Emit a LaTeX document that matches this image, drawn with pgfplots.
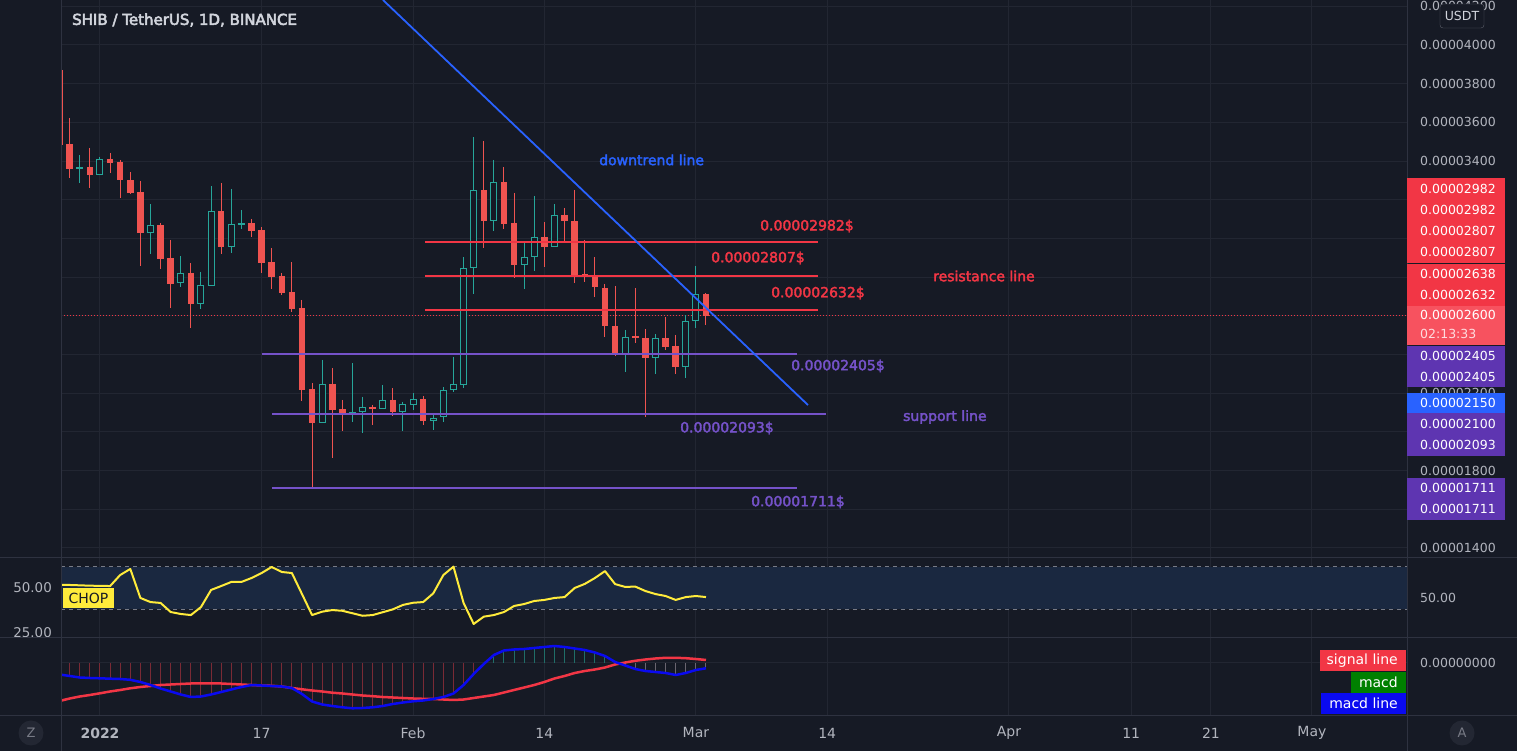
\documentclass[border=0pt]{standalone}
\usepackage{fontspec}
\setmainfont{DejaVu Sans}
\newfontfamily\semib{DejaVu Sans}[FakeBold=2.5]
\newfontfamily\titlef{DejaVu Sans}[FakeBold=3.5]
\usepackage{pgfplots}
\usepackage{pgfplotstable}
\pgfplotsset{compat=1.18}
\definecolor{bg}{HTML}{161A25}
\definecolor{cgrid}{HTML}{222632}
\definecolor{csep}{HTML}{2E3240}
\definecolor{ctext}{HTML}{B2B5BE}
\definecolor{ctitle}{HTML}{D1D4DC}
\definecolor{cbear}{HTML}{EF5350}
\definecolor{cbull}{HTML}{26A69A}
\definecolor{cred}{HTML}{F23645}
\definecolor{cred2}{HTML}{F7525F}
\definecolor{cpurp}{HTML}{7552C9}
\definecolor{cpurpbox}{HTML}{5E35B1}
\definecolor{cblue}{HTML}{2962FF}
\definecolor{cyell}{HTML}{FFEB3B}
\definecolor{cband}{HTML}{1A2840}
\definecolor{cdash}{HTML}{787B86}
\definecolor{cmacd}{HTML}{0A0AF0}
\definecolor{cgreen}{HTML}{008000}
\definecolor{cbtn}{HTML}{232733}
\definecolor{chred}{HTML}{7A2A35}
\definecolor{chteal}{HTML}{1F6E68}
\definecolor{chpink}{HTML}{6A6570}
\newcommand\fs[1]{\fontsize{#1}{#1}\selectfont}

% day index: 0 = 1 Jan 2022
\pgfplotstableread{
d o h l c
-4 3871 3902 3468 3483
-3 3488 3623 3313 3359
-1 3369 3468 3261 3328
1 3411 3442 3338 3390
2 3395 3406 3209 3302
3 3302 3344 3230 3235
4 3240 3297 2858 3028
6 3070 3080 2842 2894
7 2899 2992 2640 2765
9 2822 2873 2537 2661
12 3142 3287 2920 2956
15 3080 3101 3008 3039
16 3044 3059 2822 2873
17 2878 2951 2739 2801
18 2806 2822 2708 2718
19 2723 2878 2620 2635
20 2640 2682 2160 2217
21 2222 2253 1710 2046
23 2248 2330 1865 2113
24 2118 2165 2005 2098
27 2129 2139 2036 2118
29 2165 2227 2082 2103
32 2170 2186 2036 2057
38 3250 3504 2951 3090
40 3292 3369 3049 3075
41 3080 3235 2796 2863
44 3008 3085 2853 2956
46 3121 3158 2982 3090
47 3090 3250 2770 2806
48 2816 2992 2775 2801
49 2806 2904 2697 2749
50 2744 2765 2490 2547
51 2547 2754 2392 2403
53 2496 2744 2460 2485
54 2485 2532 2077 2382
56 2485 2594 2423 2439
57 2444 2501 2299 2336
60 2713 2718 2553 2600
}\bear
\pgfplotstableread{
d o h l c
-2 3359 3431 3287 3369
0 3328 3421 3328 3411
5 3028 3178 2920 3070
8 2770 2909 2749 2822
10 2661 2827 2635 2759
11 2754 3271 2754 3142
13 2956 3256 2925 3075
14 3070 3147 3049 3080
22 2046 2372 2046 2248
25 2098 2356 2051 2103
26 2103 2181 1995 2129
28 2118 2243 2118 2165
30 2103 2155 2005 2144
31 2139 2200 2113 2170
33 2057 2087 2010 2072
34 2077 2232 2051 2217
35 2217 2389 2205 2248
36 2243 2904 2227 2847
37 2847 3524 2713 3250
39 3090 3406 3039 3292
42 2863 2977 2739 2904
43 2904 3220 2832 3008
45 2956 3178 2956 3121
52 2403 2527 2310 2491
55 2382 2506 2299 2485
58 2336 2604 2279 2573
59 2573 2858 2537 2713
}\bull
\pgfplotstableread{
d chop
-4 51.7
-3 51.7
-2 51.5
-1 51.3
0 51.2
1 51.1
2 57.3
3 60.7
4 44.4
5 42.1
6 41.6
7 36.5
8 35.4
9 34.8
10 39.3
11 48.9
12 51.1
13 53.4
14 53.4
15 55.6
16 58.4
17 61.8
18 59.0
19 58.4
20 46.6
21 34.8
22 36.7
23 37.6
24 37.2
25 35.8
26 34.4
27 34.8
28 36.4
29 38.0
30 40.5
31 41.7
32 42.1
33 47.0
34 57.3
35 62.0
36 41.6
37 29.8
38 33.9
39 34.8
40 36.5
41 39.9
42 41.0
43 42.7
44 43.3
45 44.4
46 44.9
47 50.0
48 52.3
49 55.6
50 59.5
51 52.2
52 50.6
53 50.8
54 48.3
55 46.6
56 45.5
57 43.3
58 44.9
59 45.5
60 44.9
}\chop
\pgfplotstableread{
d macd signal
-4 -57.5 -190
-3 -65 -177.5
-2 -72.5 -167.5
-1 -75 -160
0 -76.5 -151.5
1 -78.5 -142.5
2 -80 -135
3 -84 -126.5
4 -95 -120
5 -110 -115
6 -127.5 -110
7 -142.5 -107.5
8 -157.5 -105
9 -170 -102.5
10 -167.5 -101.5
11 -157.5 -101.5
12 -145 -102.5
13 -132.5 -105
14 -120 -107.5
15 -110 -110
16 -112.5 -112.5
17 -115 -114
18 -117.5 -117.5
19 -125 -125
20 -155 -131.5
21 -192.5 -137.5
22 -207.5 -142.5
23 -215 -148.5
24 -221.5 -152.5
25 -226.5 -157.5
26 -225 -162.5
27 -221.5 -166
28 -215 -170
29 -205 -172.5
30 -197.5 -175
31 -191.5 -177.5
32 -187.5 -179
33 -180 -180
34 -170 -182.5
35 -152.5 -185
36 -110 -182.5
37 -55 -175
38 -5 -167.5
39 40 -160
40 62.5 -147.5
41 67.5 -135
42 70 -122.5
43 75 -110
44 80 -95
45 85 -77.5
46 80 -65
47 72.5 -50
48 65 -40
49 52.5 -32.5
50 35 -22.5
51 5 -7.5
52 -12.5 2.5
53 -30 11
54 -40 17.5
55 -45 22.5
56 -50 26
57 -60 26
58 -50 24
59 -35 20
60 -26.5 15
}\macdtab

\pgfplotsset{
  tvbase/.style={
    scale only axis, width=1346pt,
    xmin=-3.861, xmax=129.41,
    axis line style={draw=none},
    major tick length=0pt,
    xtick={0,16,31,44,59,72,90,102.1,110,120},
    xmajorgrids,
    grid style={color=cgrid, line width=1pt},
    xticklabels={},
  },
  barstyle/.style={draw=none, forget plot, error bars/.cd, y dir=minus, y explicit, error mark=none},
}

\begin{document}
\begin{tikzpicture}[x=1pt,y=1pt]
\path[use as bounding box, fill=bg] (0,0) rectangle (1517,751);

% ---------------- main price panel ----------------
\begin{axis}[tvbase, at={(61pt,751pt)}, anchor=north west, height=557pt,
  ymin=1353.5, ymax=4232.6,
  ytick={1400,1600,...,4200}, ymajorgrids,
  yticklabels={0.00001400,,0.00001800,,0.00002200,,,,,,0.00003400,0.00003600,0.00003800,0.00004000,0.00004200},
  yticklabel pos=right,
  yticklabel style={anchor=west, inner sep=0pt, xshift=13pt, font=\fs{12.5}, text=ctext},
]
% current price line
\addplot[cred, line width=1pt, dash pattern=on 1pt off 2pt, forget plot] coordinates {(-3.861,2600) (129.41,2600)};
% wicks
\addplot[barstyle, error bar style={line width=1pt, draw=cbear}] table[x=d, y=h, y error expr=\thisrow{h}-\thisrow{l}] {\bear};
\addplot[barstyle, error bar style={line width=1pt, draw=cbull}] table[x=d, y=h, y error expr=\thisrow{h}-\thisrow{l}] {\bull};
% bodies
\addplot[barstyle, error bar style={line width=6.5pt, draw=cbear}] table[x=d, y=o, y error expr=\thisrow{o}-\thisrow{c}] {\bear};
\addplot[barstyle, error bar style={line width=7pt, draw=cbull}] table[x=d, y=c, y error expr=\thisrow{c}-\thisrow{o}] {\bull};
\addplot[barstyle, error bar style={line width=5pt, draw=bg}] table[x=d, y expr=\thisrow{c}-5.17, y error expr={max(\thisrow{c}-\thisrow{o}-10.34,0)}] {\bull};
% resistance lines
\addplot[cred, line width=2pt] coordinates {(32.18,2982) (71.09,2982)};
\addplot[cred, line width=2pt] coordinates {(32.18,2807) (71.09,2807)};
\addplot[cred, line width=2pt] coordinates {(32.18,2632) (71.09,2632)};
% support lines
\addplot[cpurp, line width=2pt] coordinates {(16.04,2405) (69.0,2405)};
\addplot[cpurp, line width=2pt] coordinates {(17.03,2093) (71.9,2093)};
\addplot[cpurp, line width=2pt] coordinates {(17.03,1711) (69.0,1711)};
% downtrend line
\addplot[cblue, line width=1.8pt] coordinates {(28.02,4232.6) (70.1,2139)};
% texts
\node[anchor=west, inner sep=0pt, text=ctitle, font=\titlef\fs{15}] at (axis cs:-2.77,4129) {SHIB / TetherUS, 1D, BINANCE};
\node[anchor=west, inner sep=0pt, text=cblue, font=\semib\fs{14}] at (axis cs:49.41,3406) {downtrend line};
\node[anchor=west, inner sep=0pt, text=cred, font=\semib\fs{14}] at (axis cs:65.35,3064) {0.00002982\$};
\node[anchor=west, inner sep=0pt, text=cred, font=\semib\fs{14}] at (axis cs:60.5,2899) {0.00002807\$};
\node[anchor=west, inner sep=0pt, text=cred, font=\semib\fs{14}] at (axis cs:66.44,2718) {0.00002632\$};
\node[anchor=west, inner sep=0pt, text=cred, font=\semib\fs{14}] at (axis cs:82.48,2806) {resistance line};
\node[anchor=west, inner sep=0pt, text=cpurp, font=\semib\fs{14}] at (axis cs:68.42,2341) {0.00002405\$};
\node[anchor=west, inner sep=0pt, text=cpurp, font=\semib\fs{14}] at (axis cs:79.5,2077) {support line};
\node[anchor=west, inner sep=0pt, text=cpurp, font=\semib\fs{14}] at (axis cs:57.43,2020) {0.00002093\$};
\node[anchor=west, inner sep=0pt, text=cpurp, font=\semib\fs{14}] at (axis cs:64.46,1638) {0.00001711\$};
\end{axis}

% ---------------- CHOP panel ----------------
\begin{axis}[tvbase, at={(61pt,194pt)}, anchor=north west, height=80pt,
  ymin=22.47, ymax=67.42,
  ytick={25,50}, yticklabels={25.00,50.00},
  yticklabel style={anchor=east, inner sep=0pt, xshift=-9pt, font=\fs{13.4}, text=ctext},
]
\addplot[fill=cband, draw=none, forget plot] coordinates {(-3.861,38.2) (129.41,38.2) (129.41,61.8) (-3.861,61.8)} -- cycle;
\addplot[cdash, line width=1pt, dash pattern=on 4pt off 4pt] coordinates {(-3.861,61.8) (129.41,61.8)};
\addplot[cdash, line width=1pt, dash pattern=on 4pt off 4pt] coordinates {(-3.861,38.2) (129.41,38.2)};
\addplot[cyell, line width=2pt, line join=round] table[x=d, y=chop] {\chop};
\end{axis}

% ---------------- MACD panel ----------------
\begin{axis}[tvbase, at={(61pt,114pt)}, anchor=north west, height=79pt,
  ymin=-265, ymax=130,
  ytick={0}, yticklabels={0.00000000}, ymajorgrids,
  yticklabel pos=right,
  yticklabel style={anchor=west, inner sep=0pt, xshift=13pt, font=\fs{12.5}, text=ctext},
  xticklabels={\textbf{2022},17,Feb,14,Mar,14,Apr,11,21,May},
  xticklabel style={anchor=center, inner sep=0pt, yshift=-17pt, font=\fs{14}, text=ctext},
]
% histogram (macd column)
\addplot[ycomb, chred, line width=1pt, mark=none, restrict x to domain=-5:38.5] table[x=d, y=macd] {\macdtab};
\addplot[ycomb, chteal, line width=1pt, mark=none, restrict x to domain=38.5:51.5] table[x=d, y=macd] {\macdtab};
\addplot[ycomb, chpink, line width=1pt, mark=none, restrict x to domain=51.5:61] table[x=d, y=macd] {\macdtab};
\addplot[cred, line width=2.5pt, line join=round] table[x=d, y=signal] {\macdtab};
\addplot[cmacd, line width=2.5pt, line join=round] table[x=d, y=macd] {\macdtab};
\end{axis}

% ---------------- separators ----------------
\draw[csep, line width=1pt] (0,193.5) -- (1517,193.5);
\draw[csep, line width=1pt] (0,113.5) -- (1517,113.5);
\draw[csep, line width=1pt] (0,35) -- (1517,35);
\draw[csep, line width=1pt] (61,0) -- (61,751);
\draw[csep, line width=1pt] (1407,0) -- (1407,751);

% ---------------- right scale labels ----------------
\begin{scope}[every node/.style={anchor=west, inner sep=0pt, text=white, font=\fs{12.5}}]
\fill[cred] (1407,573) rectangle (1505,488);
\node at (1420,562) {0.00002982};
\node at (1420,541) {0.00002982};
\node at (1420,520) {0.00002807};
\node at (1420,499) {0.00002807};
\fill[cred] (1407,487) rectangle (1505,445);
\node at (1420,477) {0.00002638};
\node at (1420,456) {0.00002632};
\fill[cred2] (1407,445) rectangle (1505,406);
\node at (1420,436) {0.00002600};
\node[text=white, text opacity=0.8] at (1420,417) {02:13:33};
\fill[cpurpbox] (1407,405) rectangle (1505,364);
\node at (1420,395) {0.00002405};
\node at (1420,374) {0.00002405};
\fill[cblue] (1407,358) rectangle (1505,338);
\node at (1420,348) {0.00002150};
\fill[cpurpbox] (1407,338) rectangle (1505,295);
\node at (1420,327) {0.00002100};
\node at (1420,306) {0.00002093};
\fill[cpurpbox] (1407,273) rectangle (1505,231);
\node at (1420,263) {0.00001711};
\node at (1420,242) {0.00001711};
\node[text=ctext] at (1420,153) {50.00};
\end{scope}

% USDT box
\filldraw[fill=bg, draw=cdash!70!bg, rounded corners=3pt] (1440,747) rectangle (1484,723);
\node[text=ctitle, font=\fs{12.5}, inner sep=0pt] at (1462,735) {USDT};

% CHOP label
\fill[cyell] (63,163) rectangle (114,143);
\node[text=bg, font=\fs{14}, inner sep=0pt] at (88.5,153) {CHOP};

% MACD pane labels
\fill[cred] (1320,101) rectangle (1406,80);
\node[anchor=east, text=white, font=\fs{14}, inner sep=0pt] at (1398,90.5) {signal line};
\fill[cgreen] (1351,79) rectangle (1406,58);
\node[anchor=east, text=white, font=\fs{14}, inner sep=0pt] at (1398,68.5) {macd};
\fill[cmacd] (1321,58) rectangle (1406,37);
\node[anchor=east, text=white, font=\fs{14}, inner sep=0pt] at (1398,47.5) {macd line};

% buttons
\fill[cbtn] (31,18) circle (12.5);
\node[text=cdash, font=\fs{13}, inner sep=0pt] at (31,18) {Z};
\fill[cbtn] (1462,18) circle (12.5);
\node[text=cdash, font=\fs{13}, inner sep=0pt] at (1462,18) {A};
\end{tikzpicture}
\end{document}
